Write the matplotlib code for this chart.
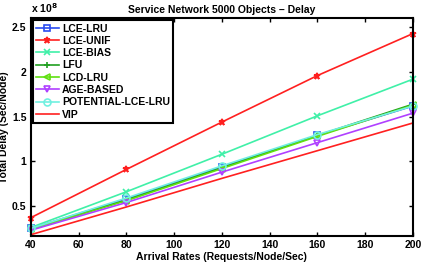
import numpy as np
from matplotlib import pyplot as plt

plt.rcParams['font.family'] = ['Liberation Sans', 'DejaVu Sans']
plt.rcParams['font.weight'] = 'bold'

rates = [40, 80, 120, 160, 200]

# total delay in units of 1e8 sec/node
lce_lru = [0.25, 0.58, 0.94, 1.29, 1.62]
lce_unif = [0.37, 0.91, 1.44, 1.96, 2.43]
lce_bias = [0.26, 0.66, 1.08, 1.51, 1.92]
lfu = [0.24, 0.57, 0.93, 1.29, 1.64]
lcd_lru = [0.24, 0.56, 0.92, 1.28, 1.63]
age_based = [0.23, 0.54, 0.88, 1.21, 1.54]
potential = [0.25, 0.59, 0.95, 1.30, 1.62]
vip = [0.18, 0.49, 0.81, 1.12, 1.43]

series = [
	('LCE-LRU', lce_lru, '#2a4cf0', 's'),
	('LCE-UNIF', lce_unif, '#ff2020', '*'),
	('LCE-BIAS', lce_bias, '#40f0a8', 'x'),
	('LFU', lfu, '#20a020', '+'),
	('LCD-LRU', lcd_lru, '#60e010', '<'),
	('AGE-BASED', age_based, '#b040ff', 'v'),
	('POTENTIAL-LCE-LRU', potential, '#70f0e0', 'o'),
	('VIP', vip, '#ff2020', None),
]

fig = plt.figure(figsize=(4.21, 2.62), dpi=100)
ax = fig.add_axes([0.073, 0.099, 0.908, 0.831])

for label, vals, color, marker in series:
	ax.plot(rates, vals, color=color, marker=marker, markersize=5, lw=1.2,
		markerfacecolor='none' if marker in ('s', '<', 'v', 'o') else color,
		markeredgewidth=1.2, label=label, clip_on=False)

ax.set_xlim(40, 200)
ax.set_ylim(0.165, 2.6)
ax.set_xticks(np.arange(40, 201, 20))
ax.set_yticks([0.5, 1, 1.5, 2, 2.5])
ax.set_yticklabels(['0.5', '1', '1.5', '2', '2.5'])
ax.tick_params(direction='in', top=True, right=True, labelsize=7.5, length=3, width=1, pad=3)
for sp in ax.spines.values():
	sp.set_linewidth(1.5)

ax.set_xlabel('Arrival Rates (Requests/Node/Sec)', fontsize=7.5, fontweight='bold', labelpad=1)
ax.set_ylabel('Total Delay (Sec/Node)', fontsize=7.5, fontweight='bold')
ax.yaxis.set_label_coords(-0.058, 0.5)
ax.set_title('Service Network 5000 Objects \u2013 Delay', fontsize=7.5, fontweight='bold', pad=4)
ax.text(0.0, 1.015, 'x 10$^{8}$', transform=ax.transAxes, fontsize=7.5, fontweight='bold',
	va='bottom', ha='left')

leg = ax.legend(loc='upper left', fontsize=7.5, frameon=True, fancybox=False,
	borderaxespad=0.2, handlelength=2.2, handletextpad=0.3, labelspacing=0.22,
	borderpad=0.3, prop={'weight': 'bold', 'size': 7.5})
leg.get_frame().set_edgecolor('black')
leg.get_frame().set_linewidth(1.5)
leg.get_frame().set_alpha(1)

fig.savefig('out.png', dpi=100)
